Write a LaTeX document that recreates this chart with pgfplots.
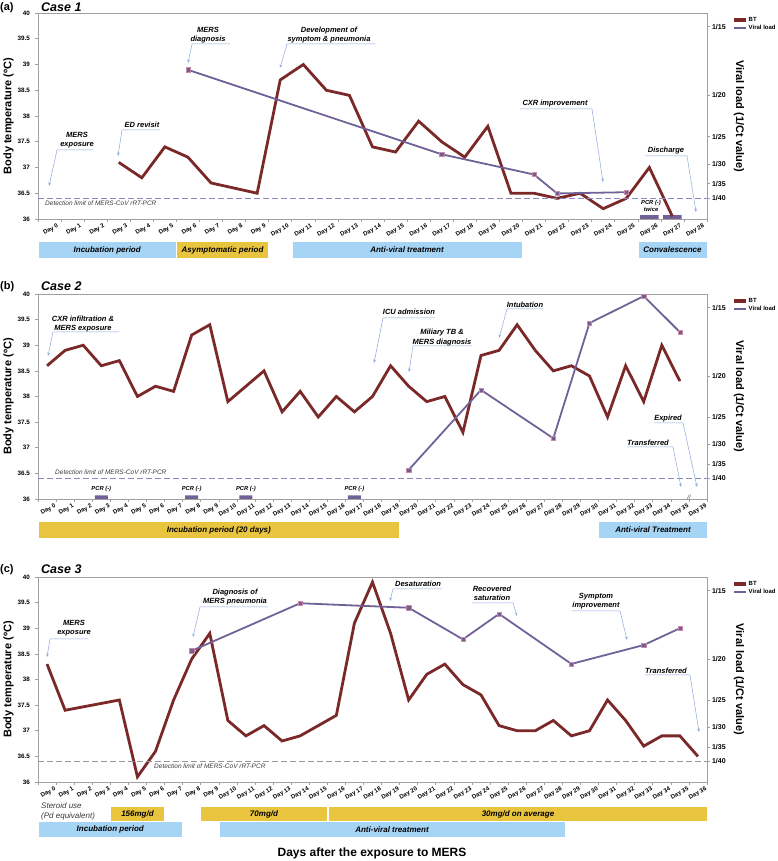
\documentclass[border=0pt]{standalone}
\usepackage{pgfplots}
\pgfplotsset{compat=1.18}
\usepackage{fontspec}
\setmainfont{Liberation Sans}
\usetikzlibrary{arrows.meta}
\definecolor{btc}{RGB}{122,40,40}
\definecolor{vlc}{RGB}{112,98,152}
\definecolor{mkfill}{RGB}{120,92,140}
\definecolor{mkdraw}{RGB}{196,140,170}
\definecolor{axgray}{RGB}{160,160,160}
\definecolor{blueband}{RGB}{166,212,245}
\definecolor{yelband}{RGB}{233,196,62}
\definecolor{callc}{RGB}{140,168,220}
\definecolor{detc}{RGB}{140,136,196}
\definecolor{detgray}{RGB}{150,150,160}
\definecolor{txtgray}{RGB}{60,60,60}

\pgfplotsset{
  leftax/.style={
    scale only axis, width=669pt, anchor=south west,
    xmin=-0.5, ymin=36, ymax=40, ytick={36,36.5,...,40},
    xtick pos=bottom, ytick pos=left,
    /pgf/number format/assume math mode=true,
    yticklabel style={font=\fontsize{6.3}{7}\selectfont\bfseries, xshift=-1.5pt},
    axis line style={axgray, line width=0.8pt},
    tick style={axgray, line width=0.6pt},
    tick align=outside, major tick length=3pt,
    xticklabels={},
    extra x tick style={major tick length=0pt, tick style={draw=none},
      xticklabel style={font=\fontsize{6}{7}\selectfont\bfseries, inner sep=0pt, xshift=7pt, yshift=-4pt, anchor=north east, rotate=30}},
    ylabel={Body temperature (ºC)},
    every axis y label/.style={at={(axis description cs:-0.0441,0.5)}, rotate=90, anchor=center, font=\fontsize{11}{12}\selectfont\bfseries},
  },
  rightax/.style={
    scale only axis, width=669pt, anchor=south west,
    xmin=-0.5, ymin=0.02, ymax=0.07,
    axis y line*=right, axis x line=none,
    scaled y ticks=false,
    ytick={0.0666667,0.05,0.04,0.0333333,0.0285714,0.025},
    yticklabels={1/15,1/20,1/25,1/30,1/35,1/40},
    yticklabel style={font=\fontsize{7}{8}\selectfont\bfseries, xshift=-1.5pt},
    axis line style={axgray, line width=0.8pt},
    tick style={axgray, line width=0.6pt},
    tick align=outside, major tick length=3pt,
    ylabel={Viral load (1/Ct value)},
    every axis y label/.style={at={(axis description cs:1.0478,0.5)}, rotate=-90, anchor=center, font=\fontsize{11}{12}\selectfont\bfseries},
    legend style={at={(axis description cs:1.0374,0.985)}, anchor=north west, draw=none, fill=none,
      font=\fontsize{6}{7}\selectfont\bfseries, inner sep=0pt, row sep=0pt, nodes={inner sep=1pt}},
    legend cell align=left,
    legend image code/.code={\draw[##1] (0pt,0pt) -- (12pt,0pt);},
  },
  bt/.style={btc, line width=2.8pt, line join=miter, mark=none},
  vl/.style={vlc, line width=1.8pt, mark=square*, mark size=2.1pt,
     mark options={fill=mkfill, draw=mkdraw, line width=0.5pt, solid}},
}

\begin{document}
\begin{tikzpicture}
\useasboundingbox (0,0) rectangle (778pt,861pt);

% ================= Case 1 =================
\begin{axis}[leftax, at={(38pt,642pt)}, height=206pt, xmax=28.5,
  xtick={-0.5,0.5,...,28.5},
  extra x ticks={0,...,28},
  extra x tick labels={Day 0,Day 1,Day 2,Day 3,Day 4,Day 5,Day 6,Day 7,Day 8,Day 9,Day 10,Day 11,Day 12,Day 13,Day 14,Day 15,Day 16,Day 17,Day 18,Day 19,Day 20,Day 21,Day 22,Day 23,Day 24,Day 25,Day 26,Day 27,Day 28}]
\addplot[ybar, bar width=0.8, bar shift=0pt, fill=vlc, draw=none] coordinates {(26,36.075) (27,36.075)};
\addplot[bt] coordinates {(3,37.1)(4,36.8)(5,37.4)(6,37.2)(7,36.7)(8,36.6)(9,36.5)(10,38.7)(11,39.0)(12,38.5)(13,38.4)(14,37.4)(15,37.3)(16,37.9)(17,37.5)(18,37.2)(19,37.8)(20,36.5)(21,36.5)(22,36.4)(23,36.5)(24,36.2)(25,36.4)(26,37.0)(27,36.05)};
\end{axis}
\begin{axis}[rightax, at={(38pt,642pt)}, height=206pt, xmax=28.5]
\addlegendimage{btc, line width=3.5pt}
\addlegendentry{BT}
\addplot[detc, dash pattern=on 6pt off 3pt, line width=0.8pt, forget plot] coordinates {(-0.5,0.025) (28.5,0.025)};
\addplot[vl] coordinates {(6,0.0562)(17,0.0357)(21,0.0308)(22,0.0262)(25,0.0265)};
\addlegendentry{Viral load}
\end{axis}

% ================= Case 2 =================
\begin{axis}[leftax, at={(38pt,362pt)}, height=205pt, xmax=36.5,
  xtick={-0.5,0.5,...,36.5},
  extra x ticks={0,...,36},
  extra x tick labels={Day 0,Day 1,Day 2,Day 3,Day 4,Day 5,Day 6,Day 7,Day 8,Day 9,Day 10,Day 11,Day 12,Day 13,Day 14,Day 15,Day 16,Day 17,Day 18,Day 19,Day 20,Day 21,Day 22,Day 23,Day 24,Day 25,Day 26,Day 27,Day 28,Day 29,Day 30,Day 31,Day 32,Day 33,Day 34,Day 35,Day 39}]
\addplot[ybar, bar width=0.72, bar shift=0pt, fill=vlc, draw=none] coordinates {(3,36.07) (8,36.07) (11,36.07) (17,36.07)};
\addplot[bt] coordinates {(0,38.6)(1,38.9)(2,39.0)(3,38.6)(4,38.7)(5,38.0)(6,38.2)(7,38.1)(8,39.2)(9,39.4)(10,37.9)(11,38.2)(12,38.5)(13,37.7)(14,38.1)(15,37.6)(16,38.0)(17,37.7)(18,38.0)(19,38.6)(20,38.2)(21,37.9)(22,38.0)(23,37.3)(24,38.8)(25,38.9)(26,39.4)(27,38.9)(28,38.5)(29,38.6)(30,38.4)(31,37.6)(32,38.6)(33,37.9)(34,39.0)(35,38.3)};
\end{axis}
\begin{axis}[rightax, at={(38pt,362pt)}, height=205pt, xmax=36.5]
\addlegendimage{btc, line width=3.5pt}
\addlegendentry{BT}
\addplot[detc, dash pattern=on 6pt off 3pt, line width=0.8pt, forget plot] coordinates {(-0.5,0.025) (36.5,0.025)};
\addplot[vl] coordinates {(20,0.0271)(24,0.0466)(28,0.0348)(30,0.0629)(33,0.0695)(35,0.0607)};
\addlegendentry{Viral load}
\end{axis}

% ================= Case 3 =================
\begin{axis}[leftax, at={(38pt,79pt)}, height=205pt, xmax=36.5,
  xtick={-0.5,0.5,...,36.5},
  extra x ticks={0,...,36},
  extra x tick labels={Day 0,Day 1,Day 2,Day 3,Day 4,Day 5,Day 6,Day 7,Day 8,Day 9,Day 10,Day 11,Day 12,Day 13,Day 14,Day 15,Day 16,Day 17,Day 18,Day 19,Day 20,Day 21,Day 22,Day 23,Day 24,Day 25,Day 26,Day 27,Day 28,Day 29,Day 30,Day 31,Day 32,Day 33,Day 34,Day 35,Day 36}]
\addplot[bt] coordinates {(0,38.3)(1,37.4)(4,37.6)(5,36.1)(6,36.6)(7,37.6)(8,38.4)(9,38.9)(10,37.2)(11,36.9)(12,37.1)(13,36.8)(14,36.9)(15,37.1)(16,37.3)(17,39.1)(18,39.9)(19,38.9)(20,37.6)(21,38.1)(22,38.3)(23,37.9)(24,37.7)(25,37.1)(26,37.0)(27,37.0)(28,37.2)(29,36.9)(30,37.0)(31,37.6)(32,37.2)(33,36.7)(34,36.9)(35,36.9)(36,36.5)};
\end{axis}
\begin{axis}[rightax, at={(38pt,79pt)}, height=205pt, xmax=36.5]
\addlegendimage{btc, line width=3.5pt}
\addlegendentry{BT}
\addplot[detgray, dash pattern=on 6pt off 3pt, line width=0.8pt, forget plot] coordinates {(-0.5,0.025) (36.5,0.025)};
\addplot[vl] coordinates {(8,0.0520)(14,0.0636)(20,0.0625)(23,0.0548)(25,0.0610)(29,0.0488)(33,0.0534)(35,0.0575)};
\addlegendentry{Viral load}
\end{axis}

% ================= annotations (pixel coordinates) =================
\begin{scope}[x=1pt, y=-1pt, shift={(0pt,861pt)},
  call/.style={callc, line width=0.5pt, -{Stealth[length=3.5pt,width=2.6pt]}},
  ct/.style={font=\fontsize{7.5}{9.3}\selectfont\bfseries\itshape, align=center, inner sep=0pt},
  bandt/.style={font=\fontsize{8}{9}\selectfont\bfseries\itshape, inner sep=0pt},
  pcr/.style={font=\fontsize{5.8}{7.5}\selectfont\bfseries\itshape, align=center, inner sep=0pt},
  det/.style={font=\fontsize{6.5}{7}\selectfont\itshape, text=txtgray, anchor=west, inner sep=0pt},
  ttl/.style={font=\fontsize{12.5}{13}\selectfont\bfseries\itshape, anchor=west, inner sep=0pt},
  pl/.style={font=\fontsize{11}{12}\selectfont\bfseries, anchor=west, inner sep=0pt}]

% titles
\node[pl] at (0,8) {(a)};
\node[ttl] at (41,7) {Case 1};
\node[pl] at (0,287) {(b)};
\node[ttl] at (41,286) {Case 2};
\node[pl] at (0,570) {(c)};
\node[ttl] at (41,569) {Case 3};
\node[font=\fontsize{12}{13}\selectfont\bfseries, inner sep=0pt] at (372,853) {Days after the exposure to MERS};

% detection limit texts
\node[det] at (45,203) {Detection limit of MERS-CoV rRT-PCR};
\node[det] at (55,472) {Detection limit of MERS-CoV rRT-PCR};
\node[det] at (154,766) {Detection limit of MERS-CoV rRT-PCR};

% ---- Case 1 callouts
\node[ct] at (77,140) {MERS\\exposure};
\draw[call] (93,150) -- (57,150) -- (49,186);
\node[ct] at (142,125) {ED revisit};
\draw[call] (160,130) -- (122,130) -- (118,156);
\node[ct] at (208,35) {MERS\\diagnosis};
\draw[call] (230,44) -- (192,44) -- (188,63);
\node[ct] at (329,35) {Development of\\symptom \& pneumonia};
\draw[call] (375,44) -- (287,44) -- (280,68);
\node[ct] at (555,104) {CXR improvement};
\draw[call] (520,109) -- (592,109) -- (603,182);
\node[ct] at (666,151) {Discharge};
\draw[call] (645,156) -- (687,156) -- (696,212);
\node[pcr] at (651,206) {PCR (-)\\twice};

% ---- Case 1 bands
\fill[blueband] (38.7,242) rectangle (175.7,258);
\node[bandt] at (107.2,250) {Incubation period};
\fill[yelband] (177.1,242) rectangle (268,258);
\node[bandt] at (222.5,250) {Asymptomatic period};
\fill[blueband] (292.5,242) rectangle (521.7,258);
\node[bandt] at (407,250) {Anti-viral treatment};
\fill[blueband] (638.5,242) rectangle (707,258);
\node[bandt] at (672.5,250) {Convalescence};

% ---- Case 2 callouts
\node[ct] at (83,324) {CXR infiltration \&\\MERS exposure};
\draw[call] (119,332) -- (53,332) -- (48,356);
\node[ct] at (409,312) {ICU admission};
\draw[call] (435,318) -- (383,318) -- (374,363);
\node[ct] at (442,337.5) {Miliary TB \&\\MERS diagnosis};
\draw[call] (472,346) -- (413,346) -- (409,372);
\node[ct] at (525,305) {Intubation};
\draw[call] (543,309) -- (507,309) -- (499,338);
\node[ct] at (668,419) {Expired};
\draw[call] (654,423) -- (683,423) -- (697,487);
\node[ct] at (648,443) {Transferred};
\draw[call] (627,447) -- (673,447) -- (681,487);
\node[pcr] at (101.3,489) {PCR (-)};
\node[pcr] at (191.7,489) {PCR (-)};
\node[pcr] at (245.9,489) {PCR (-)};
\node[pcr] at (354.4,489) {PCR (-)};
\node[font=\fontsize{6}{7}\selectfont\itshape, text=txtgray, inner sep=0pt] at (689,497) {//};

% ---- Case 2 bands
\fill[yelband] (38.7,522) rectangle (399,538);
\node[bandt] at (218.8,530) {Incubation period (20 days)};
\fill[blueband] (599.2,522) rectangle (707,538);
\node[bandt] at (653,530) {Anti-viral Treatment};

% ---- Case 3 callouts
\node[ct] at (74,628.5) {MERS\\exposure};
\draw[call] (88,639) -- (50,639) -- (47,657);
\node[ct] at (235,597) {Diagnosis of\\MERS pneumonia};
\draw[call] (268,607) -- (200,607) -- (193,637);
\node[ct] at (418,584) {Desaturation};
\draw[call] (442,589) -- (393,589) -- (390,601);
\node[ct] at (492,593.5) {Recovered\\saturation};
\draw[call] (472,603) -- (513,603) -- (517,616);
\node[ct] at (596,601.5) {Symptom\\improvement};
\draw[call] (572,611) -- (620,611) -- (627,640);
\node[ct] at (666,671) {Transferred};
\draw[call] (645,675) -- (690,675) -- (699,732);

% ---- Case 3 bands
\node[font=\fontsize{8}{9.3}\selectfont\itshape, text=txtgray, align=left, anchor=north west, inner sep=0pt] at (41,803) {Steroid use\\(Pd equivalent)};
\fill[yelband] (111,807) rectangle (164,821);
\node[bandt] at (137.5,814) {156mg/d};
\fill[yelband] (201.4,807) rectangle (326.6,821);
\node[bandt] at (264,814) {70mg/d};
\fill[yelband] (328.8,807) rectangle (707,821);
\node[bandt] at (518,814) {30mg/d on average};
\fill[blueband] (38.7,822.5) rectangle (182,837);
\node[bandt] at (110.3,829.7) {Incubation period};
\fill[blueband] (219.5,822.5) rectangle (565,837);
\node[bandt] at (392,829.7) {Anti-viral treatment};
\end{scope}
\end{tikzpicture}
\end{document}
